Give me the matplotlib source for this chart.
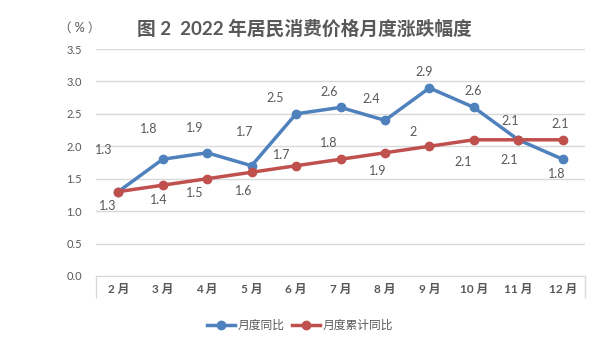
import numpy as np
import matplotlib.pyplot as plt

plt.rcParams['font.family'] = ['Lato', 'Noto Sans CJK SC', 'DejaVu Sans']

# ---- data ----
months = ['2 月', '3 月', '4 月', '5 月', '6 月', '7 月', '8 月', '9 月', '10 月', '11 月', '12 月']
yoy = [1.3, 1.8, 1.9, 1.7, 2.5, 2.6, 2.4, 2.9, 2.6, 2.1, 1.8]
cum_yoy = [1.3, 1.4, 1.5, 1.6, 1.7, 1.8, 1.9, 2.0, 2.1, 2.1, 2.1]
yoy_text = ['1.3', '1.8', '1.9', '1.7', '2.5', '2.6', '2.4', '2.9', '2.6', '2.1', '1.8']
cum_text = ['1.3', '1.4', '1.5', '1.6', '1.7', '1.8', '1.9', '2', '2.1', '2.1', '2.1']

# label offsets (pixels) as placed in the original
yoy_off = [(-15, 42), (-14, 30), (-12, 25), (-7, 34), (-21, 16), (-11, 15),
           (-14, 21), (-5, 16), (-1, 16), (-8, 19), (-6, -15)]
cum_off = [(-11, -14), (-4, -15), (-12, -14), (-8, -19), (-14, 11), (-12, 16),
           (-7, -18), (-16, 14), (-11, -22), (-9, -20), (-3, 16)]

blue = '#4F81BD'
red = '#C0504D'
grey = '#595959'

fig = plt.figure(figsize=(6.05, 3.4), dpi=100)
ax = fig.add_axes([96/605, 1-276/340, (585-96)/605, (276-49)/340])

x = np.arange(len(months))
ax.plot(x, yoy, color=blue, lw=2.5, marker='o', ms=6, label='月度同比', zorder=3)
ax.plot(x, cum_yoy, color=red, lw=2.5, marker='o', ms=6, label='月度累计同比', zorder=3)

for i in range(len(months)):
    ax.annotate(yoy_text[i], (x[i], yoy[i]), xytext=yoy_off[i], textcoords='offset pixels',
                ha='center', va='center', fontsize=9, color=grey)
    ax.annotate(cum_text[i], (x[i], cum_yoy[i]), xytext=cum_off[i], textcoords='offset pixels',
                ha='center', va='center', fontsize=9, color=grey)

ax.set_xlim(-0.5, len(months) - 0.5)
ax.set_ylim(0, 3.5)
ax.set_yticks(np.arange(0, 3.51, 0.5))
ax.set_yticklabels([f'{v:.1f}' for v in np.arange(0, 3.51, 0.5)], fontsize=8, color=grey)
ax.set_xticks(x)
ax.set_xticklabels(months, fontsize=8.5, color=grey, fontweight='bold')
ax.tick_params(axis='both', length=0, pad=6)
ax.tick_params(axis='y', pad=10)
ax.set_xticks([-0.5, len(months) - 0.5], minor=True)
ax.tick_params(axis='x', which='minor', length=16, color='#D9D9D9', width=1)
ax.grid(axis='y', color='#D9D9D9', lw=1)
ax.set_axisbelow(True)
for s in ['top', 'left', 'right']:
    ax.spines[s].set_visible(False)
ax.spines['bottom'].set_color('#D9D9D9')

fig.text(304/605, 1-28/340, '图 2  2022 年居民消费价格月度涨跌幅度', ha='center', va='center',
         fontsize=13.5, fontweight='bold', color=grey)
fig.text(80/605, 1-28/340, '（ % ）', ha='center', va='center', fontsize=9, color=grey)

fig.legend(loc='center', bbox_to_anchor=(300/605, 1-325/340), ncol=2, frameon=False,
           fontsize=8.5, labelcolor=grey, handlelength=2.4, columnspacing=0.6, handletextpad=0.2)

plt.savefig('out.png', dpi=100)
